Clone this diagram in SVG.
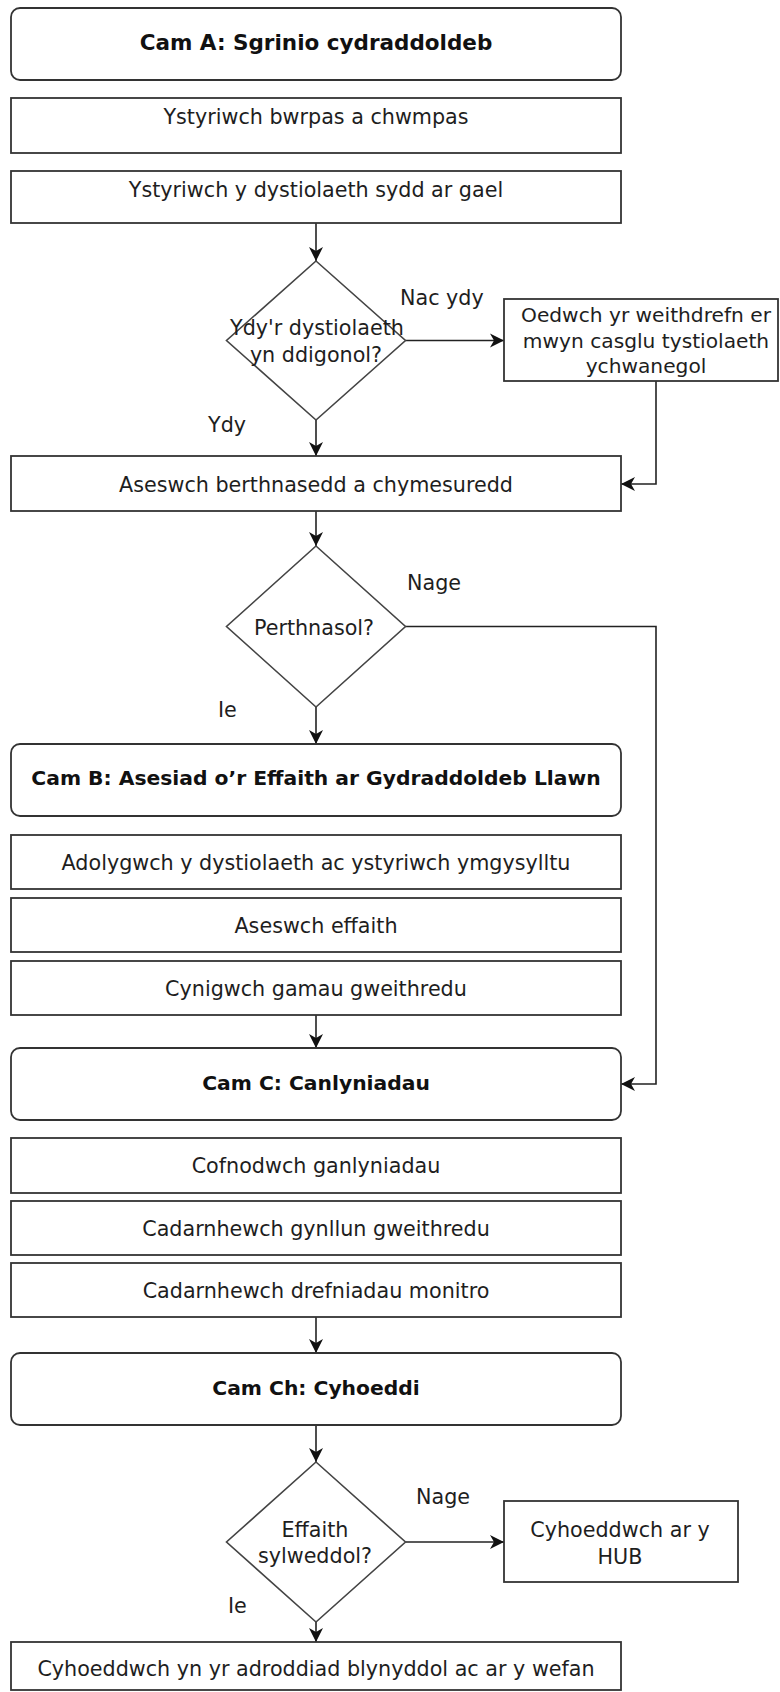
<svg xmlns="http://www.w3.org/2000/svg" width="780" height="1692" viewBox="0 0 780 1692">
<style>
.box{fill:#fff;stroke:#333;stroke-width:1.8}
.dia{fill:#fff;stroke:#444;stroke-width:1.6}
.t{font-family:"DejaVu Sans",sans-serif;font-size:20.7px;fill:#1e1e1e;text-anchor:middle}
.b{font-weight:bold;font-size:20.3px;fill:#111}
.lbl{text-anchor:start}
.con{fill:none;stroke:#222;stroke-width:1.6}
</style>
<defs>
<marker id="arr" viewBox="-15 -8 16 16" refX="0" refY="0" markerWidth="16" markerHeight="16" markerUnits="userSpaceOnUse" orient="auto">
<path d="M0,0 L-14,-7 L-10,0 L-14,7 Z" fill="#111"/>
</marker>
</defs>
<rect width="780" height="1692" fill="#fff"/>

<g id="connectors">
<path class="con" d="M316,223 V261" marker-end="url(#arr)"/>
<path class="con" d="M405.5,340.5 H504" marker-end="url(#arr)"/>
<path class="con" d="M316,420 V456" marker-end="url(#arr)"/>
<path class="con" d="M656,381 V484 H621" marker-end="url(#arr)"/>
<path class="con" d="M316,511 V546" marker-end="url(#arr)"/>
<path class="con" d="M405.5,626.5 H656 V1084 H621" marker-end="url(#arr)"/>
<path class="con" d="M316,707 V744" marker-end="url(#arr)"/>
<path class="con" d="M316,1015 V1048" marker-end="url(#arr)"/>
<path class="con" d="M316,1317 V1353" marker-end="url(#arr)"/>
<path class="con" d="M316,1425 V1462" marker-end="url(#arr)"/>
<path class="con" d="M405.5,1542 H504" marker-end="url(#arr)"/>
<path class="con" d="M316,1622 V1642" marker-end="url(#arr)"/>
<text class="t lbl" x="400" y="305">Nac ydy</text>
<text class="t lbl" x="208" y="432">Ydy</text>
<text class="t lbl" x="407" y="590">Nage</text>
<text class="t lbl" x="218" y="717">Ie</text>
<text class="t lbl" x="416" y="1504">Nage</text>
<text class="t lbl" x="228" y="1613">Ie</text>
</g>

<g id="camA">
<rect class="box" x="11" y="8" width="610" height="72" rx="9"/>
<text class="t b" x="316" y="50" style="font-size:21.5px">Cam A: Sgrinio cydraddoldeb</text>
</g>
<g id="bwrpas">
<rect class="box" x="11" y="98" width="610" height="55"/>
<text class="t" x="316" y="124">Ystyriwch bwrpas a chwmpas</text>
</g>
<g id="dystiolaeth">
<rect class="box" x="11" y="171" width="610" height="52"/>
<text class="t" x="316" y="197">Ystyriwch y dystiolaeth sydd ar gael</text>
</g>
<g id="digonol">
<polygon class="dia" points="316,261 405.5,340.5 316,420 226.5,340.5"/>
<text class="t" x="317" y="335">Ydy'r dystiolaeth</text>
<text class="t" x="316" y="362">yn ddigonol?</text>
</g>
<g id="oedwch">
<rect class="box" x="504" y="299" width="274" height="82"/>
<text class="t" x="646" y="322" style="font-size:20.2px">Oedwch yr weithdrefn er</text>
<text class="t" x="646" y="348" style="font-size:20.2px">mwyn casglu tystiolaeth</text>
<text class="t" x="646" y="373" style="font-size:20.2px">ychwanegol</text>
</g>
<g id="aseswch">
<rect class="box" x="11" y="456" width="610" height="55"/>
<text class="t" x="316" y="492">Aseswch berthnasedd a chymesuredd</text>
</g>
<g id="perthnasol">
<polygon class="dia" points="316,546 405.5,626.5 316,707 226.5,626.5"/>
<text class="t" x="314" y="635">Perthnasol?</text>
</g>
<g id="camB">
<rect class="box" x="11" y="744" width="610" height="72" rx="9"/>
<text class="t b" x="316" y="785">Cam B: Asesiad o’r Effaith ar Gydraddoldeb Llawn</text>
</g>
<g id="adolygwch">
<rect class="box" x="11" y="835" width="610" height="54"/>
<text class="t" x="316" y="870">Adolygwch y dystiolaeth ac ystyriwch ymgysylltu</text>
</g>
<g id="effaith">
<rect class="box" x="11" y="898" width="610" height="54"/>
<text class="t" x="316" y="933">Aseswch effaith</text>
</g>
<g id="cynigwch">
<rect class="box" x="11" y="961" width="610" height="54"/>
<text class="t" x="316" y="996">Cynigwch gamau gweithredu</text>
</g>
<g id="camC">
<rect class="box" x="11" y="1048" width="610" height="72" rx="9"/>
<text class="t b" x="316" y="1090">Cam C: Canlyniadau</text>
</g>
<g id="cofnodwch">
<rect class="box" x="11" y="1138" width="610" height="55"/>
<text class="t" x="316" y="1173">Cofnodwch ganlyniadau</text>
</g>
<g id="cynllun">
<rect class="box" x="11" y="1201" width="610" height="54"/>
<text class="t" x="316" y="1236">Cadarnhewch gynllun gweithredu</text>
</g>
<g id="monitro">
<rect class="box" x="11" y="1263" width="610" height="54"/>
<text class="t" x="316" y="1298">Cadarnhewch drefniadau monitro</text>
</g>
<g id="camCh">
<rect class="box" x="11" y="1353" width="610" height="72" rx="9"/>
<text class="t b" x="316" y="1395">Cam Ch: Cyhoeddi</text>
</g>
<g id="sylweddol">
<polygon class="dia" points="316,1462 405.5,1542 316,1622 226.5,1542"/>
<text class="t" x="315" y="1537">Effaith</text>
<text class="t" x="315" y="1563">sylweddol?</text>
</g>
<g id="hub">
<rect class="box" x="504" y="1501" width="234" height="81"/>
<text class="t" x="620" y="1537">Cyhoeddwch ar y</text>
<text class="t" x="620" y="1564">HUB</text>
</g>
<g id="adroddiad">
<rect class="box" x="11" y="1642" width="610" height="48"/>
<text class="t" x="316" y="1676">Cyhoeddwch yn yr adroddiad blynyddol ac ar y wefan</text>
</g>
</svg>
